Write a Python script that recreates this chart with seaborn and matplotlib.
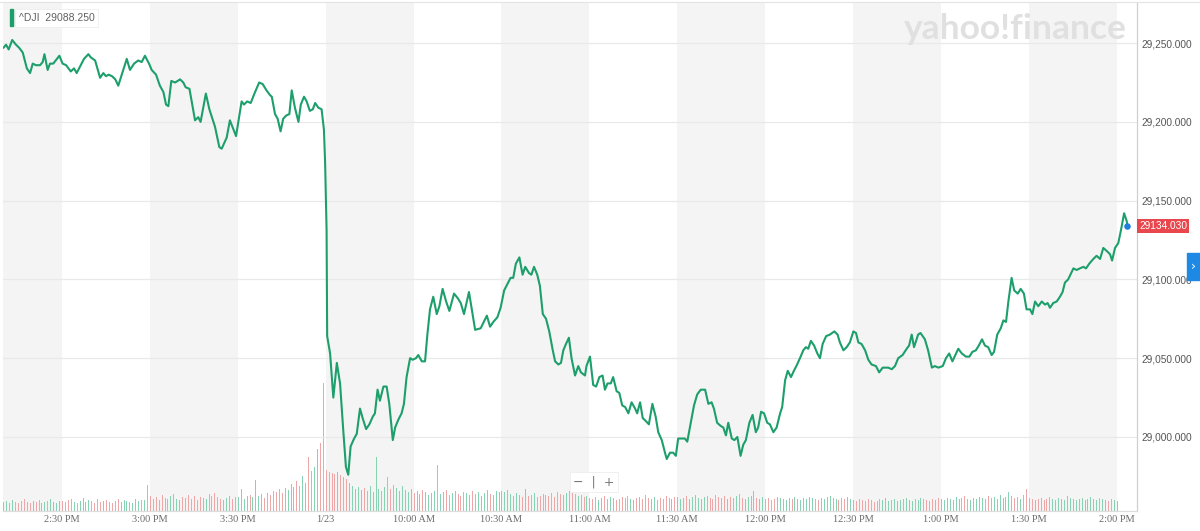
import numpy as np
import matplotlib
matplotlib.use("Agg")
import matplotlib.pyplot as plt
import seaborn as sns
from matplotlib.patches import Rectangle
from matplotlib.ticker import FuncFormatter

# ---------------------------------------------------------------- DATA
# x = trading minutes after 2:30 PM on 1/22, overnight gap removed (1/23 9:30 AM = 90)
minutes = [
    -20.0, -19.1, -18.2, -17.0, -15.7, -14.6, -13.4, -12.0, -10.9, -10.0, -8.9, -7.5, -6.6, -6.0,
    -4.9, -4.1, -3.0, -0.9, 0.2, 1.4, 3.0, 4.1, 5.0, 6.1, 7.5, 9.0, 9.8, 11.3, 13.0, 14.1, 15.0,
    15.9, 17.1, 18.2, 19.2, 22.1, 23.2, 24.6, 26.0, 27.2, 28.3, 29.7, 30.6, 32.1, 33.4, 34.6, 35.5,
    36.3, 37.3, 38.6, 40.3, 41.4, 42.2, 43.5, 45.4, 46.5, 47.3, 49.1, 50.3, 52.2, 53.7, 54.5, 56.2,
    57.3, 59.4, 61.3, 62.1, 63.2, 64.4, 65.9, 67.3, 68.5, 69.8, 71.0, 71.6, 72.7, 73.6, 74.6, 75.5,
    76.5, 77.6, 78.4, 79.5, 80.7, 81.5, 82.6, 83.5, 84.6, 85.6, 86.4, 87.5, 88.6, 89.4, 89.8,
    90.3, 90.5, 91.5, 92.6, 93.8, 94.9, 96.0, 96.9, 97.7, 98.5, 99.7, 100.6, 101.7, 102.6, 103.8,
    104.9, 106.1, 106.8, 107.7, 108.5, 109.7, 110.8, 111.7, 112.9, 113.7, 114.8, 115.9, 116.7,
    117.6, 118.8, 119.7, 120.8, 121.6, 122.8, 123.9, 124.7, 125.6, 126.7, 127.9, 128.8, 129.9,
    131.1, 132.2, 133.8, 135.1, 136.1, 137.2, 138.9, 141.0, 142.9, 145.0, 146.1, 147.2, 148.6,
    149.7, 150.9, 152.0, 153.1, 154.0, 154.9, 156.1, 157.2, 158.1, 159.4, 160.2, 161.1, 162.2,
    163.1, 164.1, 165.2, 166.3, 167.5, 168.3, 169.4, 170.3, 171.1, 172.0, 173.0, 173.9, 175.1,
    176.2, 177.1, 178.5, 179.0, 180.2, 181.3, 182.3, 183.4, 184.5, 185.3, 186.2, 187.3, 188.1,
    189.3, 190.2, 191.2, 192.2, 193.3, 194.4, 195.6, 196.3, 197.3, 198.2, 199.3, 200.3, 201.5,
    202.6, 203.5, 204.7, 205.8, 206.4, 207.5, 208.6, 209.5, 210.3, 211.5, 212.6, 213.4, 214.6,
    215.7, 216.8, 218.0, 219.5, 220.6, 221.7, 222.5, 223.6, 224.8, 225.7, 226.6, 227.4, 228.6,
    229.5, 230.5, 231.6, 232.5, 233.4, 234.6, 235.7, 236.8, 237.6, 238.6, 239.6, 240.7, 241.6,
    242.8, 243.9, 245.1, 245.8, 246.8, 247.7, 248.8, 249.8, 250.9, 252.1, 253.0, 253.9, 254.7,
    255.6, 256.7, 257.8, 258.7, 259.6, 260.8, 262.1, 263.6, 264.7, 265.5, 266.7, 267.8, 268.9,
    270.1, 271.0, 271.8, 272.9, 274.1, 275.2, 276.3, 277.8, 278.9, 280.1, 282.0, 283.2, 284.3,
    285.4, 286.9, 288.3, 289.1, 290.0, 290.8, 292.2, 293.0, 294.5, 295.6, 296.9, 297.9, 299.1,
    300.6, 301.7, 302.8, 303.9, 304.9, 305.9, 307.1, 308.5, 309.7, 310.7, 311.9, 312.9, 314.0,
    315.0, 316.1, 317.3, 318.1, 319.2, 320.4, 321.3, 322.2, 323.0, 324.1, 325.0, 326.2, 327.2,
    328.3, 329.2, 330.4, 331.2, 332.1, 333.2, 334.4, 335.5, 336.4, 337.2, 338.3, 339.5, 340.6,
    341.5, 342.3, 343.4, 345.2, 346.3, 347.4, 348.6, 349.5, 350.6, 352.0, 353.1, 354.3, 355.4,
    356.6, 357.7, 358.4, 359.4, 360.5, 361.4, 362.5, 363.4, 363.6,
]
price = [
    29247, 29249, 29246, 29252, 29249, 29247, 29244, 29234, 29231, 29237, 29236, 29236, 29238, 29243,
    29233, 29237, 29237, 29242, 29237, 29236, 29232, 29234, 29231, 29235, 29240, 29243, 29241, 29239,
    29228, 29231, 29229, 29230, 29229, 29227, 29223, 29240, 29233, 29237, 29239, 29238, 29242, 29237,
    29233, 29230, 29223, 29219, 29211, 29210, 29226, 29225, 29227, 29225, 29222, 29221, 29201, 29203,
    29200, 29218, 29208, 29197, 29184, 29183, 29190, 29201, 29191, 29213, 29211, 29213, 29212, 29219,
    29225, 29224, 29220, 29217, 29216, 29205, 29202, 29194, 29202, 29204, 29205, 29220, 29209, 29200,
    29211, 29216, 29213, 29207, 29208, 29212, 29209, 29208, 29195, 29174,
    29131, 29064, 29053, 29025, 29047, 29034, 29004, 28981, 28976, 28994, 28999, 29002, 29018, 29012,
    29005, 29008, 29013, 29015, 29030, 29023, 29032, 29032, 29021, 28998, 29006, 29011, 29015, 29021,
    29038, 29050, 29049, 29050, 29052, 29048, 29048, 29065, 29081, 29089, 29078, 29083, 29094,
    29086, 29080, 29091, 29088, 29085, 29078, 29092, 29068, 29069, 29077, 29070, 29073, 29076,
    29082, 29093, 29097, 29101, 29101, 29110, 29114, 29103, 29108, 29104, 29103, 29108, 29103,
    29096, 29078, 29075, 29067, 29055, 29048, 29046, 29047, 29055, 29059, 29063, 29050, 29039,
    29045, 29041, 29039, 29045, 29051, 29033, 29032, 29038, 29039, 29030, 29034, 29034, 29038,
    29029, 29028, 29020, 29019, 29015, 29022, 29018, 29015, 29022, 29012, 29010, 29008, 29021,
    29013, 29003, 28998, 28990, 28986, 28990, 28990, 28988, 28999, 28999, 28999, 28997, 29009,
    29020, 29027, 29030, 29030, 29021, 29022, 29018, 29009, 29007, 29006, 29001, 29009, 28999,
    28998, 29000, 28988, 28995, 28998, 29009, 29014, 29003, 29006, 29016, 29015, 29009, 29008,
    29003, 29006, 29015, 29019, 29036, 29042, 29038, 29042, 29046, 29051, 29055, 29057, 29056,
    29061, 29058, 29053, 29050, 29059, 29064, 29065, 29067, 29065, 29060, 29055, 29057, 29060,
    29067, 29066, 29060, 29059, 29055, 29049, 29046, 29045, 29041, 29044, 29044, 29043, 29045,
    29050, 29052, 29056, 29058, 29065, 29057, 29065, 29066, 29062, 29055, 29044, 29045, 29044,
    29045, 29050, 29053, 29048, 29052, 29056, 29053, 29051, 29051, 29054, 29055, 29058, 29062,
    29058, 29057, 29052, 29054, 29065, 29069, 29074, 29073, 29086, 29101, 29093, 29091, 29094,
    29091, 29081, 29081, 29078, 29086, 29083, 29086, 29084, 29085, 29082, 29085, 29086, 29089,
    29092, 29098, 29100, 29107, 29106, 29107, 29108, 29107, 29110, 29113, 29115, 29113, 29120,
    29118, 29116, 29112, 29120, 29123, 29131, 29142, 29137, 29134.03,
]

# one volume bar per minute, minute -20 .. 360 (units of 10k shares)
vol_start = -20
volume_prev_day = [
    9, 10, 8, 11, 9, 8, 10, 12, 9, 8, 10, 9, 11, 8, 9, 10, 12, 9, 8, 10,
    10, 9, 11, 12, 9, 8, 10, 13, 9, 11, 10, 8, 12, 9, 10, 11, 9, 8, 10, 12, 9, 11, 10, 9, 8, 12, 10, 11, 11, 26,
    15, 12, 14, 11, 16, 13, 12, 15, 17, 12, 11, 14, 13, 16, 12, 15, 11, 14, 13, 12, 17, 15, 18, 14, 12, 11, 13, 15, 12, 14,
    14, 22, 12, 15, 16, 14, 31, 15, 17, 13, 18, 16, 20, 19, 22, 18, 23, 21, 27, 24, 30, 25, 35, 28, 54, 40, 44, 62, 68, 128,
]
volume_today = [
    41, 39, 38, 37, 39, 36, 34, 32, 28, 25, 22, 24, 21, 23, 20, 25, 19, 54, 22, 20, 24, 34, 22, 26, 23, 20, 25, 21, 19, 22,
    18, 20, 17, 21, 19, 16, 18, 20, 46, 17, 19, 21, 16, 18, 20, 17, 15, 19, 18, 16, 20, 17, 19, 15, 18, 21, 17, 16, 20, 19,
    20, 19, 21, 17, 15, 18, 16, 14, 22, 15, 16, 18, 14, 15, 17, 16, 15, 18, 14, 19, 17, 16, 18, 20, 21, 17, 15, 16, 14, 15,
    13, 12, 14, 11, 13, 15, 12, 14, 13, 11, 12, 14, 13, 15, 12, 11, 13, 14, 12, 16, 13, 12, 14, 11, 13, 12, 15, 13, 12, 14,
    14, 12, 13, 15, 12, 14, 16, 13, 12, 14, 15, 13, 12, 16, 14, 13, 15, 12, 14, 13, 15, 17, 13, 12, 14, 15, 20, 13, 12, 14,
    12, 13, 11, 12, 14, 13, 12, 11, 13, 12, 14, 12, 11, 13, 12, 14, 13, 12, 11, 13, 12, 14, 15, 13, 12, 11, 13, 12, 14, 12,
    11, 10, 12, 11, 10, 12, 11, 9, 10, 12, 11, 13, 10, 11, 12, 10, 11, 12, 13, 11, 10, 12, 11, 13, 12, 11, 10, 12, 11, 13,
    12, 11, 13, 12, 11, 14, 12, 13, 15, 12, 11, 13, 12, 14, 13, 12, 15, 13, 14, 12, 16, 13, 14, 19, 15, 13, 14, 12, 16, 22,
    13, 12, 11, 12, 13, 11, 12, 14, 12, 11, 13, 12, 11, 15, 13, 12, 11, 12, 13, 11, 12, 14, 12, 11, 13, 12, 11, 10, 12, 11, 10,
]

tick_minutes = [0, 30, 60, 90, 120, 150, 180, 210, 240, 270, 300, 330, 360]
tick_labels = ["2:30 PM", "3:00 PM", "3:30 PM", "1/23", "10:00 AM", "10:30 AM", "11:00 AM",
               "11:30 AM", "12:00 PM", "12:30 PM", "1:00 PM", "1:30 PM", "2:00 PM"]
price_ticks = [29000, 29050, 29100, 29150, 29200, 29250]
symbol = "^DJI"
prev_close = 29088.250
last_price = 29134.030

# ---------------------------------------------------------------- PLOT
sns.set_style("white")
fig = plt.figure(figsize=(12, 5.31), dpi=100)
ax_vol = fig.add_axes([0.0025, 0.0377, 0.945, 0.9567])

xmin, xmax = -20.14, 366.9
# alternating half-hour bands
for start in range(-30, 361, 60):
    ax_vol.axvspan(max(start, xmin), start + 30, color="#f4f4f4", lw=0, zorder=0)

vol = np.array(volume_prev_day + volume_today)
vol_x = np.arange(vol_start, vol_start + len(vol))
mins = np.array(minutes)
prc = np.array(price)
up = np.interp(vol_x, mins, prc) >= np.interp(vol_x - 1, mins, prc)
bar_cols = np.where(up, "#86d2b2", "#eea6a6")
ax_vol.vlines(vol_x, 0, vol, colors=bar_cols, lw=0.45, antialiased=False, zorder=2)
ax_vol.set_ylim(0, 508)
ax_vol.set_xlim(xmin, xmax)
ax_vol.set_yticks([])
ax_vol.set_xticks(tick_minutes)
ax_vol.set_xticklabels(tick_labels, family="Liberation Serif", fontsize=7.5, color="#6b6b6b")
ax_vol.tick_params(axis="x", length=0, pad=3)

ax = ax_vol.twinx()
ax.set_ylim(28953, 29275.5)
ax.set_xlim(xmin, xmax)
for p in price_ticks:
    ax.axhline(p, color="#e9e9e9", lw=0.9, zorder=1)
sns.lineplot(x=mins, y=prc, ax=ax, color="#1d9f6c", lw=1.5, zorder=3)
ax.scatter([mins[-1]], [last_price], s=22, color="#1e7fe0", zorder=4, linewidths=0)
ax.set_yticks(price_ticks)
ax.yaxis.set_major_formatter(FuncFormatter(lambda v, _: f"{v:,.3f}"))
ax.tick_params(axis="y", length=0, pad=3, labelsize=7.3, labelcolor="#555555")
for lab in ax.get_yticklabels():
    lab.set_family("Liberation Sans")
ax.set_ylabel("")

for a in (ax, ax_vol):
    for side in ("left", "top"):
        a.spines[side].set_visible(False)
    a.spines["right"].set_color("#cfcfcf")
    a.spines["bottom"].set_color("#dddddd")
    a.spines["right"].set_linewidth(0.8)
    a.spines["bottom"].set_linewidth(0.8)

# top border line
fig.add_artist(plt.Line2D([0, 1], [0.996, 0.996], color="#e3e3e3", lw=0.8))

# last price tag
ax.text(1.0 + 0.002, last_price, f"{last_price:.3f}", transform=ax.get_yaxis_transform(),
        va="center", ha="left", fontsize=7.3, family="Liberation Sans", color="white",
        bbox=dict(boxstyle="square,pad=0.2", fc="#e8474d", ec="none"))

# symbol box top-left
fig.text(0.0155, 0.966, f"{symbol}  {prev_close:.3f}", fontsize=7.5, family="Liberation Sans",
         color="#606060", va="center", ha="left",
         bbox=dict(boxstyle="square,pad=0.35", fc="white", ec="#eeeeee", lw=0.6))
fig.add_artist(Rectangle((0.0085, 0.951), 0.0025, 0.032, transform=fig.transFigure,
                         color="#1d9f6c", zorder=5))

# watermark
fig.text(0.846, 0.945, "yahoo!finance", fontsize=25.5, fontweight="bold", family="Lato",
         color="#e0e0e0", ha="center", va="center")

# zoom buttons
fig.text(0.495, 0.092, "\u2212  |  +", fontsize=9, color="#777777", ha="center", va="center",
         bbox=dict(boxstyle="square,pad=0.3", fc="white", ec="#eeeeee", lw=0.6))

# side tab
fig.add_artist(Rectangle((0.989, 0.473), 0.011, 0.05, transform=fig.transFigure,
                         color="#1e88e5", zorder=5))
fig.text(0.9945, 0.498, "\u203a", fontsize=9, color="white", ha="center", va="center", zorder=6)

fig.savefig("out.png", dpi=100)
